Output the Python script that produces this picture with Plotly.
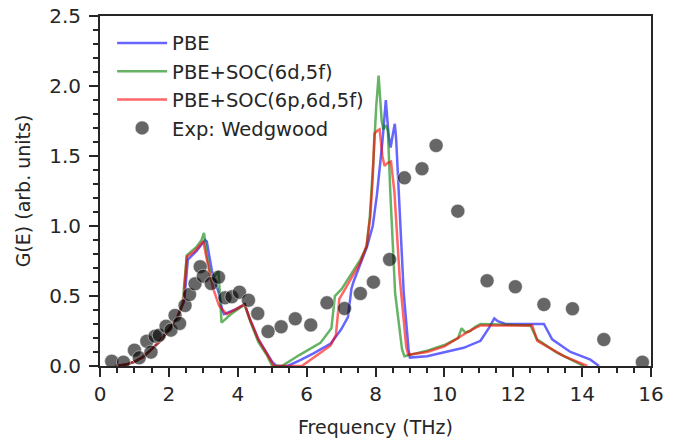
import plotly.graph_objects as go

# ---------------- data ----------------
pbe_f = [0.45, 0.75, 1.0, 1.25, 1.5, 1.75, 2.0, 2.25, 2.45, 2.55, 2.8, 3.05, 3.1, 3.25, 3.45, 3.55, 3.6, 3.9, 4.2,
         4.36, 4.6, 4.84, 5.0, 5.12,
         5.45, 5.8, 6.2, 6.7, 7.0, 7.2, 7.3, 7.36, 7.55, 7.75, 7.92, 8.04, 8.2, 8.3, 8.38, 8.44, 8.5, 8.56, 8.6,
         8.67, 8.82, 8.96, 9.0,
         9.5, 10.0, 10.56, 11.05, 11.29, 11.45, 11.55, 11.77, 12.3, 12.89, 13.13, 13.66, 14.24, 14.49]
pbe_g = [0.0, 0.01, 0.03, 0.065, 0.12, 0.18, 0.26, 0.35, 0.47, 0.76, 0.82, 0.9, 0.89, 0.68, 0.52, 0.4, 0.37, 0.4, 0.44,
         0.33, 0.19, 0.09, 0.03, 0.0,
         0.0, 0.04, 0.09, 0.16, 0.26, 0.35, 0.55, 0.6, 0.72, 0.85, 1.0, 1.22, 1.6, 1.9, 1.65, 1.56, 1.65, 1.73, 1.62,
         1.24, 0.52, 0.12, 0.06,
         0.07, 0.1, 0.13, 0.18, 0.27, 0.34, 0.32, 0.3, 0.3, 0.3, 0.19, 0.1, 0.045, 0.0]

soc1_f = [0.45, 0.75, 1.0, 1.25, 1.5, 1.75, 2.0, 2.25, 2.4, 2.52, 2.8, 2.95, 3.02, 3.1, 3.24, 3.44, 3.53, 3.8, 4.2,
          4.36, 4.6, 4.84, 5.0,
          5.28, 5.8, 6.4, 6.72, 6.82, 7.02, 7.56, 7.74, 7.83, 7.94, 8.02, 8.09, 8.18, 8.23, 8.3, 8.36, 8.43,
          8.57, 8.77, 8.84,
          9.5, 10.0, 10.4, 10.5, 10.6, 10.75, 10.9, 11.05, 12.0, 12.5, 12.69, 13.27, 14.05]
soc1_g = [0.0, 0.01, 0.03, 0.065, 0.12, 0.18, 0.26, 0.35, 0.45, 0.79, 0.85, 0.9, 0.95, 0.8, 0.61, 0.68, 0.31, 0.37, 0.44,
          0.32, 0.17, 0.08, 0.0,
          0.0, 0.08, 0.165, 0.27, 0.5, 0.55, 0.76, 0.85, 1.05, 1.47, 1.85, 2.075, 1.75, 1.69, 1.72, 1.68, 1.24,
          0.52, 0.12, 0.07,
          0.11, 0.15, 0.2, 0.27, 0.24, 0.25, 0.28, 0.3, 0.29, 0.29, 0.19, 0.095, 0.0]

soc2_f = [0.45, 0.75, 1.0, 1.25, 1.5, 1.75, 2.0, 2.25, 2.42, 2.52, 2.75, 2.95, 3.0, 3.15, 3.29, 3.46, 3.68, 4.2,
          4.36, 4.6, 4.84, 5.05,
          5.86, 6.3, 6.69, 6.85, 6.95, 7.07, 7.56, 7.74, 7.85, 7.92, 7.97, 8.05, 8.12, 8.2, 8.26, 8.35, 8.45, 8.55,
          8.7, 8.89, 8.95,
          9.5, 10.0, 10.56, 10.8, 11.05, 12.0, 12.55, 12.7, 13.47, 14.15]
soc2_g = [0.0, 0.01, 0.03, 0.065, 0.12, 0.18, 0.26, 0.35, 0.45, 0.78, 0.82, 0.87, 0.89, 0.7, 0.55, 0.43, 0.37, 0.44,
          0.33, 0.19, 0.09, 0.0,
          0.0, 0.08, 0.145, 0.22, 0.48, 0.53, 0.74, 0.86, 1.07, 1.35, 1.66, 1.68, 1.69, 1.5, 1.43, 1.45, 1.46, 1.24,
          0.64, 0.14, 0.08,
          0.1, 0.14, 0.225, 0.26, 0.29, 0.29, 0.29, 0.18, 0.07, 0.0]

exp_f = [0.34, 0.68, 1.0, 1.14, 1.36, 1.48, 1.6, 1.72, 1.92, 2.06, 2.18, 2.31, 2.47, 2.6, 2.76, 2.91, 3.0, 3.23,
         3.44, 3.63, 3.83, 4.05, 4.31, 4.58, 4.88, 5.26, 5.67, 6.12, 6.59, 7.1, 7.56, 7.94, 8.41, 8.84, 9.35,
         9.76, 10.39, 11.24, 12.06, 12.89, 13.72, 14.63, 15.75]
exp_g = [0.034, 0.027, 0.113, 0.059, 0.177, 0.099, 0.213, 0.22, 0.284, 0.256, 0.361, 0.304, 0.432, 0.511, 0.587,
         0.709, 0.641, 0.589, 0.634, 0.487, 0.494, 0.527, 0.47, 0.375, 0.246, 0.28, 0.337, 0.293, 0.451, 0.411,
         0.518, 0.599, 0.761, 1.344, 1.409, 1.575, 1.106, 0.609, 0.566, 0.439, 0.409, 0.189, 0.027]

names = ["PBE", "PBE+SOC(6d,5f)", "PBE+SOC(6p,6d,5f)", "Exp: Wedgwood"]
x_ticks = [0, 2, 4, 6, 8, 10, 12, 14, 16]
y_ticks = [0.0, 0.5, 1.0, 1.5, 2.0, 2.5]
y_tick_text = ["0.0", "0.5", "1.0", "1.5", "2.0", "2.5"]

# ---------------- figure ----------------
TXT = "#262626"
FONT = "DejaVu Sans"

fig = go.Figure()
series = [(pbe_f, pbe_g, "rgba(0,0,255,0.6)"),
          (soc1_f, soc1_g, "rgba(0,128,0,0.6)"),
          (soc2_f, soc2_g, "rgba(255,0,0,0.6)")]
for i, (fx, gy, col) in enumerate(series):
    fig.add_trace(go.Scatter(x=fx, y=gy, mode="lines", name=names[i], legendgroup=str(i),
                             line=dict(color=col, width=2.5)))
fig.add_trace(go.Scatter(x=exp_f, y=exp_g, mode="markers", name=names[3], legendgroup="3",
                         marker=dict(size=14, color="rgba(0,0,0,0.6)",
                                     line=dict(color="rgba(255,255,255,0.45)", width=1))))

axis_common = dict(showline=True, linecolor=TXT, linewidth=2, mirror=True,
                   ticks="outside", ticklen=9, tickwidth=2, tickcolor=TXT,
                   showgrid=False, zeroline=False, automargin=False,
                   tickfont=dict(family=FONT, size=20, color=TXT),
                   title_font=dict(family=FONT, size=19, color=TXT))

fig.update_xaxes(range=[0, 16], tickvals=x_ticks, title_text="Frequency (THz)",
                 minor=dict(dtick=0.5, ticks="outside", ticklen=5, tickwidth=1.5, tickcolor=TXT, showgrid=False),
                 title_standoff=21, **axis_common)
fig.update_yaxes(range=[0, 2.5], tickvals=y_ticks, ticktext=y_tick_text, title_text="G(E) (arb. units)",
                 minor=dict(dtick=0.1, ticks="outside", ticklen=5, tickwidth=1.5, tickcolor=TXT, showgrid=False),
                 ticklabelstandoff=4, title_standoff=14, **axis_common)

fig.update_layout(
    width=684, height=438,
    margin=dict(l=100, r=33, t=16, b=72),
    paper_bgcolor="white", plot_bgcolor="white",
    font=dict(family=FONT, color=TXT),
    showlegend=True,
    legend=dict(x=0.022, y=0.978, xanchor="left", yanchor="top", bgcolor="rgba(0,0,0,0)",
                font=dict(family=FONT, size=19.5, color=TXT), tracegroupgap=0,
                itemwidth=50, itemsizing="trace"),
)

fig.write_html("out.html")
